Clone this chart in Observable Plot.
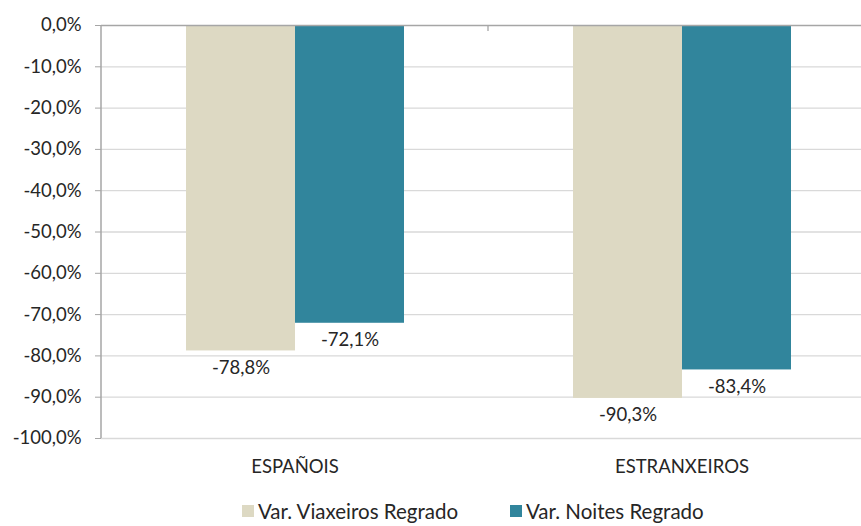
<!DOCTYPE html>
<html><head><meta charset="utf-8">
<script src="https://cdn.jsdelivr.net/npm/d3@7"></script>
<script src="https://cdn.jsdelivr.net/npm/@observablehq/plot@0.6"></script>
<style>
body{margin:0;background:#fff;font-family:Lato, sans-serif;overflow:hidden;}
#chart svg{overflow:hidden;display:block;}
#legend{position:relative;width:861px;height:36px;font-size:20.5px;color:#262626}
.item{position:absolute;top:11px;display:flex;align-items:center;white-space:nowrap;line-height:1}
.sw{width:12px;height:12px;margin-right:4px}
</style></head><body><div id="chart"></div><div id="legend"></div>
<script>
const categories = ["ESPAÑOIS", "ESTRANXEIROS"];
const series = ["Var. Viaxeiros Regrado", "Var. Noites Regrado"];
const viaxeiros = [-78.8, -90.3];
const noites = [-72.1, -83.4];
const colors = ["#DDD9C3", "#31859C"];
const yTicks = [0, -10, -20, -30, -40, -50, -60, -70, -80, -90, -100];

const data = categories.flatMap((c, i) => [
  {category: c, series: series[0], value: viaxeiros[i]},
  {category: c, series: series[1], value: noites[i]}
]);
const fmt = v => v.toFixed(1).replace(".", ",") + "%";

const plot = Plot.plot({
  width: 861, height: 490,
  marginLeft: 101, marginRight: -14, marginTop: 25, marginBottom: 52,
  style: {fontFamily: "Lato", fontSize: "18.5px", color: "#262626", background: "#fff"},
  fx: {domain: categories, padding: 0, label: null, axis: "bottom", tickSize: 0, tickPadding: 21},
  x: {domain: series, paddingInner: 0, paddingOuter: 0.76, axis: null},
  y: {domain: [-100, 0], axis: null},
  color: {domain: series, range: colors},
  marks: [
    Plot.ruleY(yTicks.filter(d => d !== 0), {stroke: "#d9d9d9", strokeWidth: 1.3}),
    Plot.barY(data, {fx: "category", x: "series", y: "value", fill: "series"}),
    Plot.ruleY([0], {stroke: "#a6a6a6", strokeWidth: 1.5}),
    Plot.axisY({ticks: yTicks, tickFormat: fmt, tickSize: 6, stroke: "#a6a6a6", tickPadding: 14, fill: "#262626", label: null}),
    Plot.text(data, {fx: "category", x: "series", y: "value", text: d => fmt(d.value), dy: 17, fill: "#262626"})
  ]
});
document.getElementById("chart").appendChild(plot);

// axis line and category separator ticks from the scales
const ys = plot.scale("y"), fxs = plot.scale("fx");
const svg = d3.select(plot);
const y0 = ys.apply(0), y1 = ys.apply(-100);
const left = fxs.range[0];
svg.append("line").attr("x1", left).attr("x2", left).attr("y1", y0).attr("y2", y1)
  .attr("stroke", "#a6a6a6").attr("stroke-width", 1.5);
categories.slice(1).forEach(c => {
  const xb = fxs.apply(c);
  svg.append("line").attr("x1", xb).attr("x2", xb).attr("y1", y0).attr("y2", y0 + 6)
    .attr("stroke", "#a6a6a6").attr("stroke-width", 1.3);
});

// legend
const legend = d3.select("#legend");
const lx = [242, 510];
series.forEach((s, i) => {
  const it = legend.append("div").attr("class", "item").style("left", lx[i] + "px");
  it.append("div").attr("class", "sw").style("background", colors[i]);
  it.append("span").text(s);
});
</script>
</body></html>
